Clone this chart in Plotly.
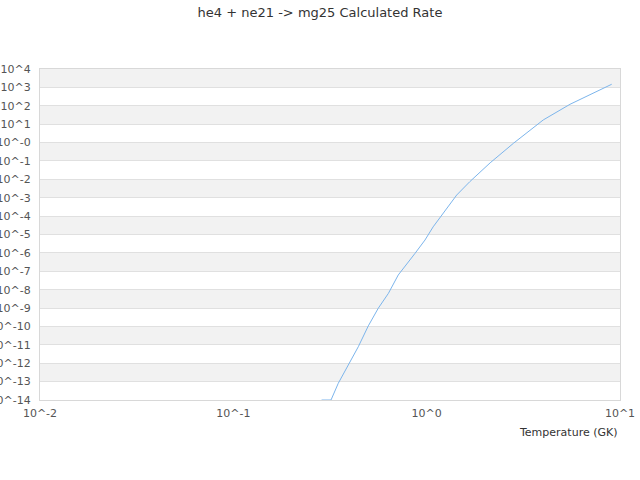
import plotly.graph_objects as go

# temperature (GK) and rate
temperature = [0.286, 0.320, 0.349, 0.394, 0.443, 0.499, 0.562, 0.634, 0.713,
               0.871, 0.980, 1.08, 1.27, 1.43, 1.67, 2.13, 2.81, 4.01, 5.51,
               7.88, 9.06]
rate = [1e-14, 1e-14, 8.1e-14, 7.9e-13, 7.9e-12, 1.07e-10, 9.8e-10, 6.3e-9,
        6.3e-8, 9.5e-7, 5.0e-6, 2.6e-5, 2.7e-4, 1.4e-3, 7.4e-3, 7.9e-2, 0.91,
        17.0, 120.0, 720.0, 1480.0]

x_tick_vals = [0.01, 0.1, 1, 10]
x_tick_text = ["10^-2", "10^-1", "10^0", "10^1"]
y_exponents = list(range(4, -15, -1))
y_tick_vals = [10.0 ** e for e in y_exponents]
y_tick_text = ["10^-0" if e == 0 else "10^%d" % e for e in y_exponents]

fig = go.Figure(go.Scatter(
    x=temperature, y=rate, mode="lines",
    line=dict(color="#7cb5ec", width=1),
    showlegend=False,
))

# alternating grey bands, every other decade from the top
for e in range(4, -14, -2):
    fig.add_shape(type="rect", xref="x domain", yref="y domain",
                  x0=0, x1=1, y0=(e - 1 + 14) / 18, y1=(e + 14) / 18,
                  fillcolor="#f2f2f2", line_width=0, layer="below")

fig.add_annotation(text="Temperature (GK)", xref="paper", yref="paper",
                   x=1, y=0, xanchor="right", yanchor="top", yshift=-24,
                   showarrow=False, font=dict(size=11, color="#333333"))

fig.update_layout(
    width=640, height=480,
    margin=dict(l=40, r=20, t=69, b=80),
    paper_bgcolor="white", plot_bgcolor="white",
    font=dict(family="DejaVu Sans", size=11, color="#555555"),
    title=dict(text="he4 + ne21 -> mg25 Calculated Rate", x=0.5, y=0.975,
               xanchor="center", yanchor="middle",
               font=dict(size=13, color="#333333")),
    xaxis=dict(type="log", range=[-2, 1], tickvals=x_tick_vals,
               ticktext=x_tick_text, showgrid=False, zeroline=False,
               showline=True, linecolor="#d8d8d8", mirror=True,
               ticks="", ticklabelstandoff=3, automargin=False),
    yaxis=dict(type="log", range=[-14, 4], tickvals=y_tick_vals,
               ticktext=y_tick_text, showgrid=True, gridcolor="#e0e0e0",
               zeroline=False, showline=True, linecolor="#d8d8d8",
               mirror=True, ticks="", ticklabelstandoff=6, automargin=False),
)

# drop the page's default body margin so the figure sits at the corner
fig.write_html("out.html", config={"displayModeBar": False},
               post_script="document.body.style.margin='0';")
